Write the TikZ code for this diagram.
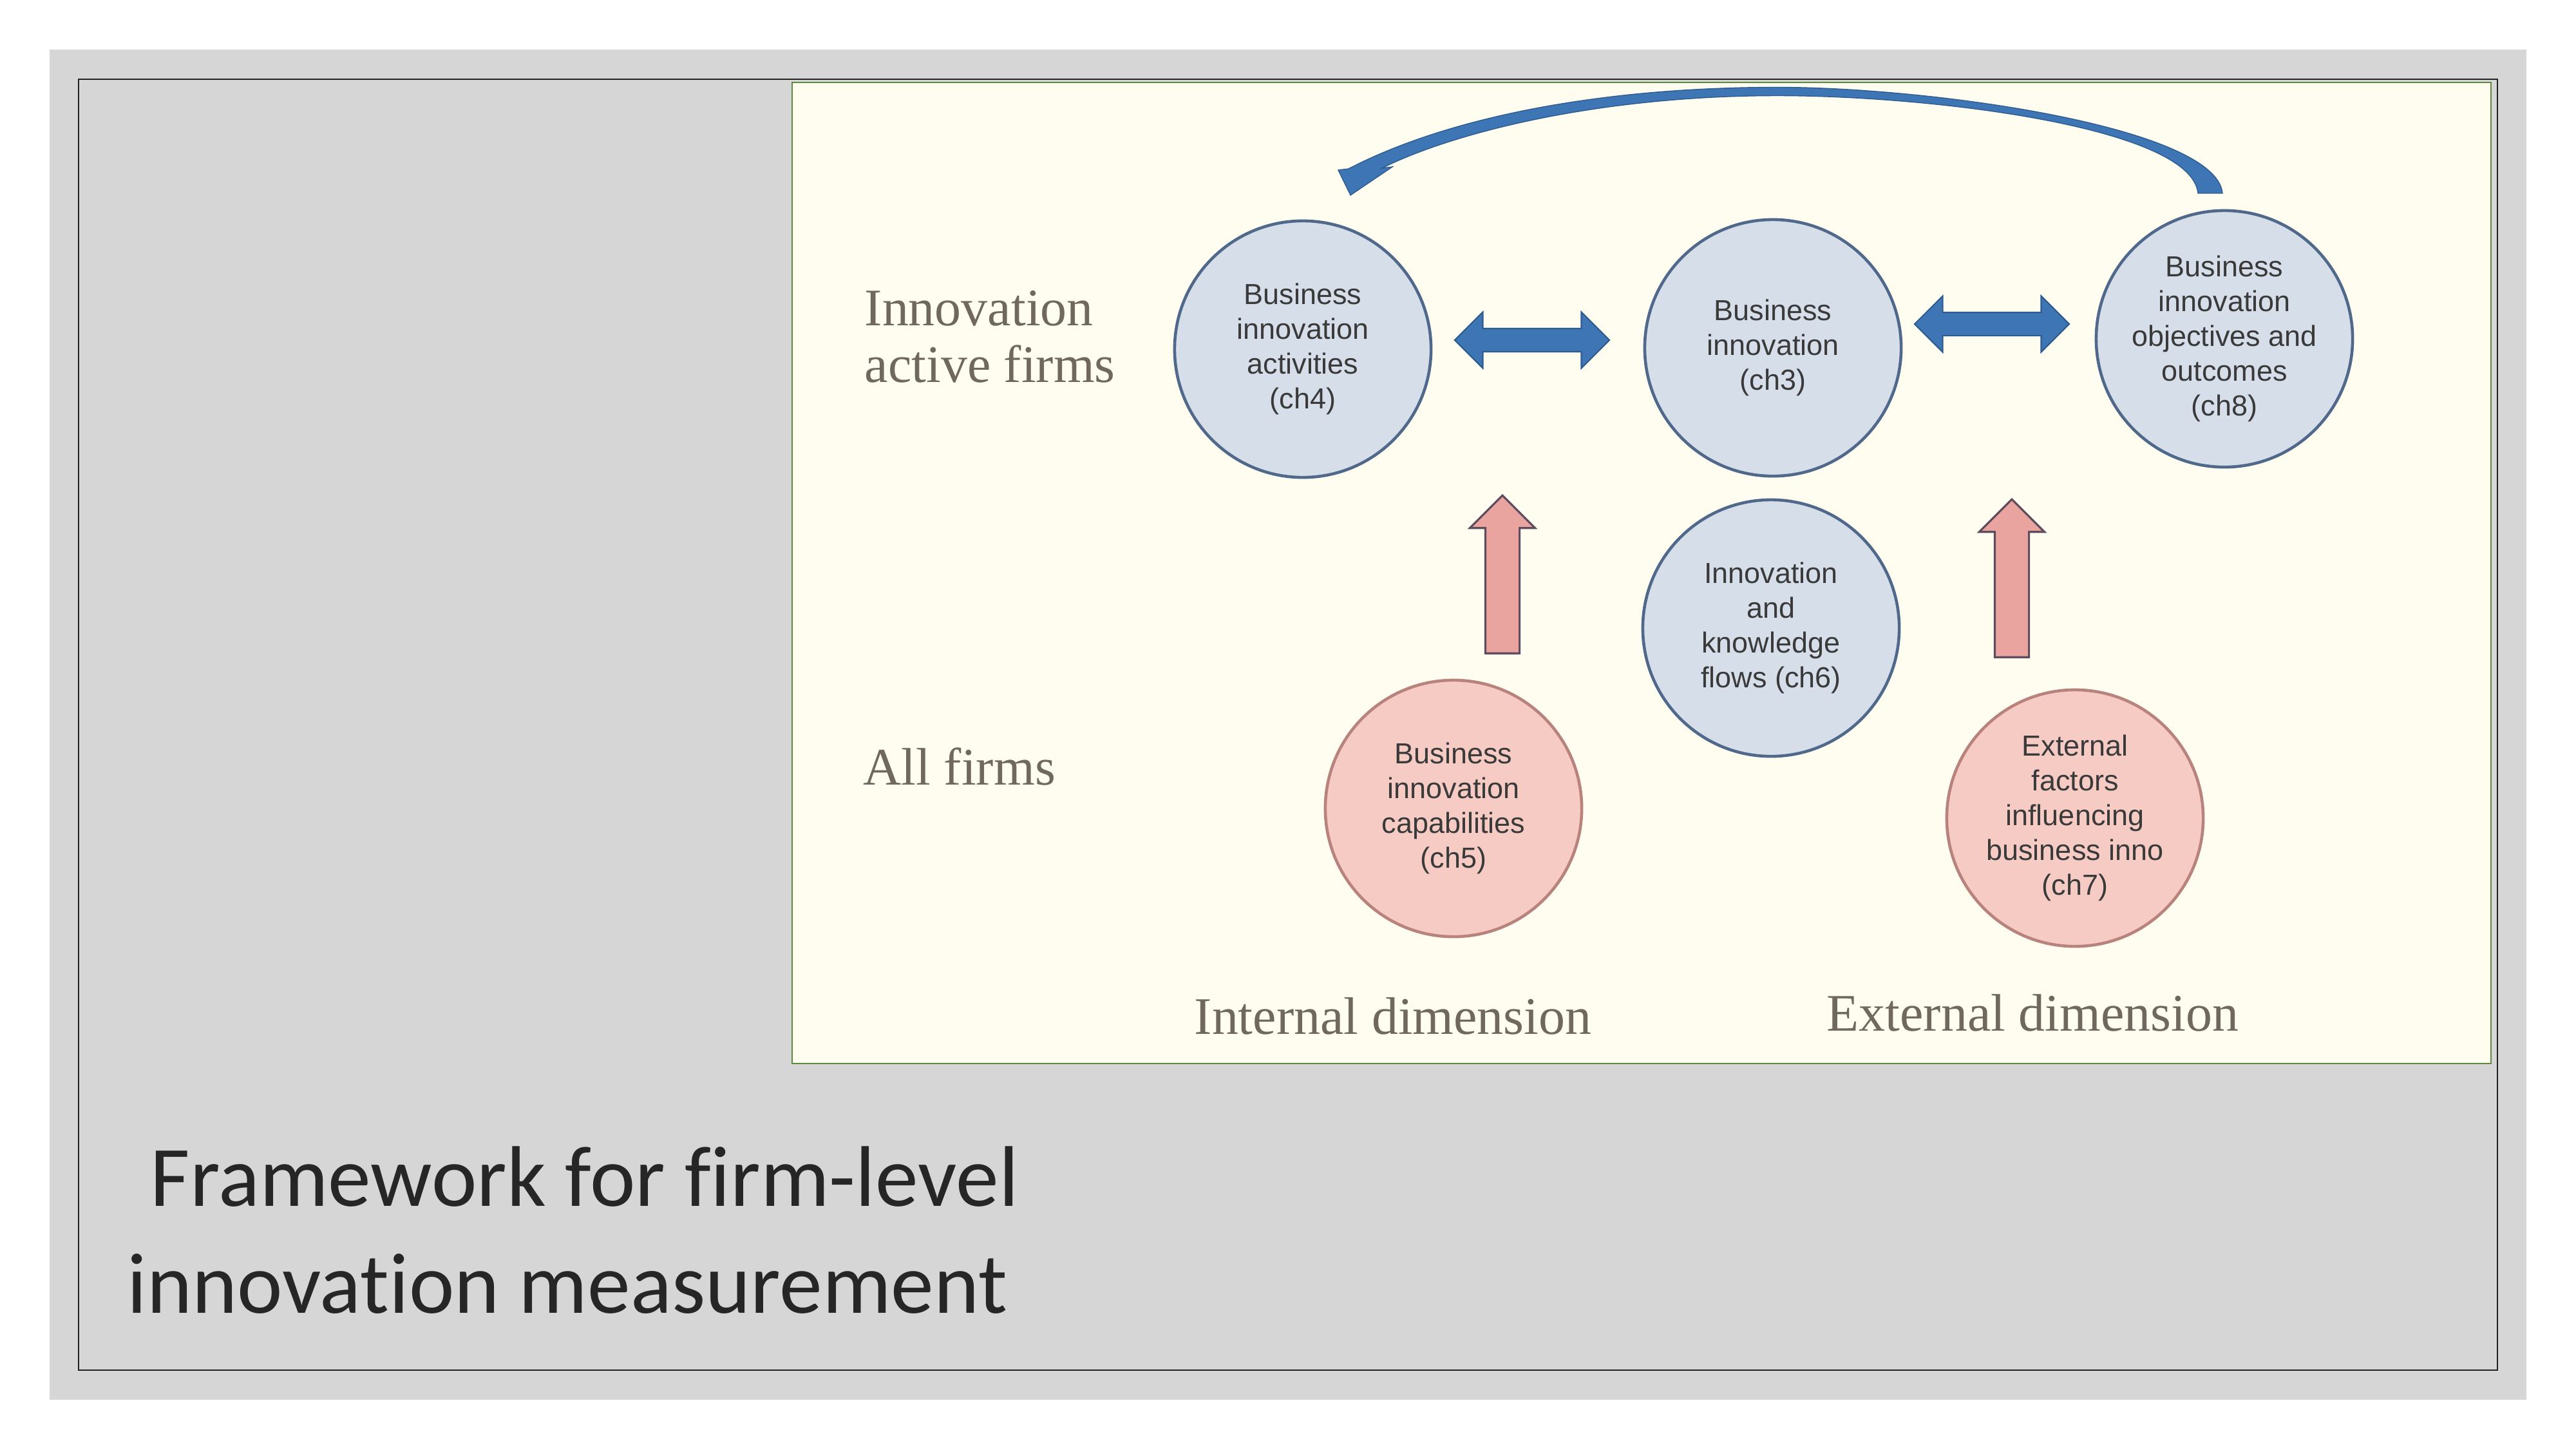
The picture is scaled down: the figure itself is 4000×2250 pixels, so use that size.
\documentclass[tikz,border=0pt]{standalone}
\usepackage{fontspec}
\setmainfont{Liberation Serif}
\setsansfont{Liberation Sans}
\newfontfamily\slidefont[Ligatures=NoCommon]{Carlito}
\usetikzlibrary{shapes.arrows,positioning,calc}
\definecolor{fwSlide}{RGB}{214,214,214}
\definecolor{fwFrame}{RGB}{34,34,34}
\definecolor{fwGreen}{RGB}{92,140,64}
\definecolor{fwCream}{RGB}{254,253,240}
\definecolor{fwBlueFill}{RGB}{214,222,234}
\definecolor{fwBlueLine}{RGB}{80,105,138}
\definecolor{fwPinkFill}{RGB}{246,203,196}
\definecolor{fwPinkLine}{RGB}{185,131,125}
\definecolor{fwArrow}{RGB}{62,117,181}
\definecolor{fwArrowLine}{RGB}{46,92,143}
\definecolor{fwPinkArrow}{RGB}{234,164,160}
\definecolor{fwPinkArrowLine}{RGB}{95,77,94}
\definecolor{fwText}{RGB}{58,58,58}
\definecolor{fwLabel}{RGB}{112,104,92}
\definecolor{fwTitle}{RGB}{38,38,38}
\tikzset{
  chapter/.style={circle,minimum size=3.98cm,inner sep=0pt,line width=1.3pt,
    align=center,text=fwText,font=\sffamily\fontsize{12.8pt}{15.4pt}\selectfont},
  activecirc/.style={chapter,draw=fwBlueLine,fill=fwBlueFill},
  allcirc/.style={chapter,draw=fwPinkLine,fill=fwPinkFill},
  linkarrow/.style={double arrow,draw=fwArrowLine,fill=fwArrow,line width=0.6pt,
    inner sep=0.17cm,double arrow head extend=0.255cm,minimum height=2.4cm},
  feedarrow/.style={single arrow,rotate=90,draw=fwPinkArrowLine,fill=fwPinkArrow,
    line width=0.9pt,inner sep=0.25cm,single arrow head extend=0.24cm,minimum height=2.45cm},
  rowlabel/.style={font=\fontsize{23.3pt}{25pt}\selectfont,text=fwLabel,inner sep=0pt,anchor=base west},
  titletext/.style={font=\slidefont\fontsize{38pt}{47pt}\selectfont,text=fwTitle,inner sep=0pt,anchor=base west}
}

\begin{document}
\begin{tikzpicture}[x=0.01cm,y=-0.01cm]
  \useasboundingbox (0,0) rectangle (4000,2250);
  \fill[white] (0,0) rectangle (4000,2250);
  \fill[fwSlide] (77,77) rectangle (3923,2173);
  \draw[fwFrame,line width=0.8pt] (122,123) rectangle (3878,2127);
  \draw[fwGreen,line width=0.8pt,fill=fwCream] (1230,128) rectangle (3868,1651);

  \node[activecirc] (ch4) at (2023,542) {Business\\innovation\\activities\\(ch4)};
  \node[activecirc] (ch3) at (2753,540) {Business\\innovation\\(ch3)};
  \node[activecirc] (ch8) at (3454,526) {Business\\innovation\\objectives and\\outcomes\\(ch8)};
  \node[activecirc] (ch6) at (2750,975) {Innovation\\and\\knowledge\\flows (ch6)};
  \node[allcirc] (ch5) at (2257,1255) {Business\\innovation\\capabilities\\(ch5)};
  \node[allcirc] (ch7) at (3222,1270) {External\\factors\\influencing\\business inno\\(ch7)};

  \node[linkarrow] (link43) at (2379,528) {};
  \node[linkarrow] (link38) at (3093,503) {};
  \node[feedarrow] (feed5) at (2333,905) {};
  \node[feedarrow] (feed7) at (3124,911) {};

  \filldraw[fill=fwArrow,draw=fwArrowLine,line width=0.4pt]
    (3451,300) .. controls (3441,198) and (3003,135.5) .. (2760,135.5)
    .. controls (2478,135.5) and (2244,184) .. (2094,262)
    -- (2078,264) -- (2097,303) -- (2162,259) -- (2146,261)
    .. controls (2256,206) and (2482,148.5) .. (2760,148.5)
    .. controls (3003,148.5) and (3403,198) .. (3413,300) -- cycle;

  \node[rowlabel,align=left] (active) at (1342,593) {Innovation\\active firms};
  \node[rowlabel] (all) at (1340,1218) {All firms};
  \node[rowlabel] (internal) at (1854,1605) {Internal dimension};
  \node[rowlabel] (external) at (2836,1600) {External dimension};

  \node[titletext] (title1) at (233,1872) {Framework for firm-level};
  \node[titletext] (title2) at (197,2038) {innovation measurement};
\end{tikzpicture}
\end{document}
